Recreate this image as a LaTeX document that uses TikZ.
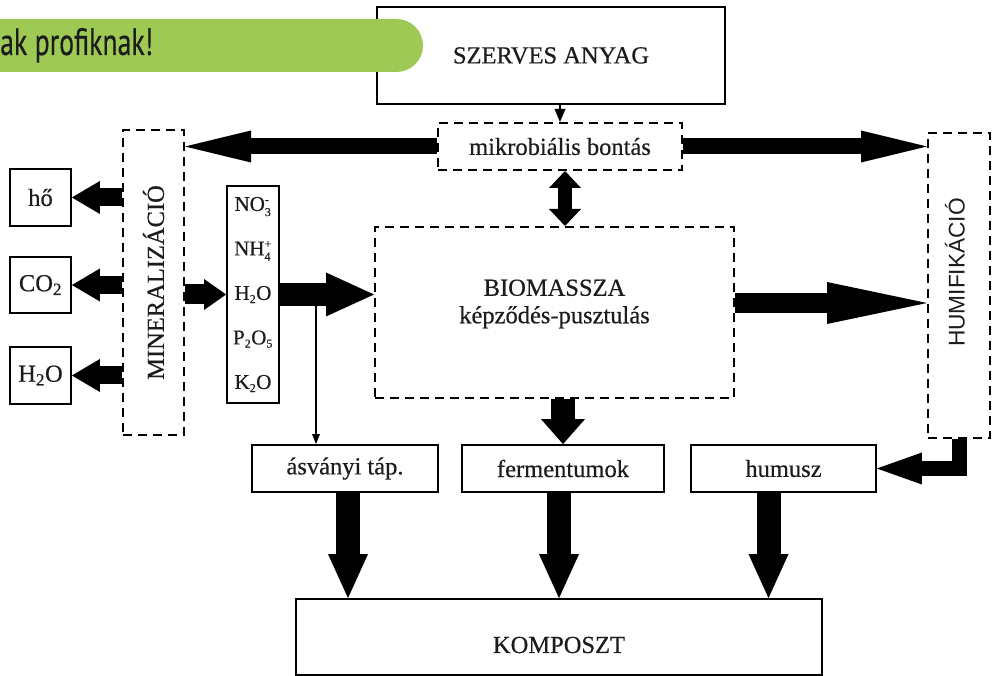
\documentclass[tikz,border=0pt]{standalone}
\usepackage{fontspec}
\setmainfont{Liberation Serif}[FakeBold=0.5]
\newfontfamily\humfont{Liberation Sans}
\newfontfamily\banfont{PT Sans}[FakeBold=0.4]
\usetikzlibrary{arrows.meta,calc}
\definecolor{banner}{RGB}{158,201,84}
\definecolor{ink}{RGB}{28,28,28}
\newcommand\bigtxt{\fontsize{24.5}{27.5}\selectfont}
\newcommand\nutrtxt{\fontsize{21}{44.5}\selectfont}
\newcommand\scr[1]{\mbox{\fontsize{12}{12}\selectfont #1}}
\begin{document}
\begin{tikzpicture}[x=1pt,y=-1pt,
  solid box/.style={draw=black, line width=1.8pt, inner sep=0pt, text=ink},
  dash box/.style={draw=black, line width=2pt, dash pattern=on 9pt off 6pt, inner sep=0pt, text=ink},
  fat/.style n args={3}{draw=black, line width=#1, -{Triangle[width=#2, length=#3, line width=0pt]}},
  plain txt/.style={inner sep=0pt, text=ink}
]
\useasboundingbox (0,0) rectangle (997,676);
\clip (0,0) rectangle (997,676);

% boxes
\node[solid box, minimum width=348pt, minimum height=97pt, font=\bigtxt] (szerves) at (551,55.5) {SZERVES ANYAG};
\node[dash box, minimum width=244pt, minimum height=47pt, font=\bigtxt] (mikro) at (560,146.5) {mikrobiális bontás};
\node[dash box, minimum width=61pt, minimum height=305pt] (miner) at (153.5,282.5) {};
\node[plain txt, rotate=90, font=\bigtxt] (minertxt) at (miner.center) {MINERALIZÁCIÓ};
\node[dash box, minimum width=62pt, minimum height=305pt] (humif) at (959,285.5) {};
\node[plain txt, rotate=90, font=\humfont\fontsize{22.7}{25}\selectfont] (humiftxt) at ($(humif.center)+(-4,-13)$) {HUMIFIKÁCIÓ};

\node[solid box, minimum width=61pt, minimum height=57pt, font=\bigtxt] (ho) at (40.5,197.5) {hő};
\node[solid box, minimum width=61pt, minimum height=56pt, font=\bigtxt] (co2) at (40.5,285) {CO\textsubscript{2}};
\node[solid box, minimum width=61pt, minimum height=57pt, font=\bigtxt] (h2o) at (40.5,375.5) {H\textsubscript{2}O};

\node[solid box, minimum width=52pt, minimum height=217pt, font=\nutrtxt, align=center] (nutr) at (253,294.5)
  {NO$_{\scr{3}}^{\scr{-}}$\\NH$_{\scr{4}}^{\scr{+}}$\\H$_{\scr{2}}$O\\P$_{\scr{2}}$O$_{\scr{5}}$\\K$_{\scr{2}}$O};

\node[dash box, minimum width=359pt, minimum height=171pt] (bio) at (554.5,312.5) {};
\node[plain txt, font=\bigtxt, align=center] (biotxt) at (554.5,304) {BIOMASSZA\\képződés-pusztulás};

\node[solid box, minimum width=186pt, minimum height=47pt, font=\bigtxt] (asv) at (345,468.5) {ásványi táp.};
\node[solid box, minimum width=202pt, minimum height=47pt, font=\bigtxt] (ferm) at (563,468.5) {fermentumok};
\node[solid box, minimum width=185pt, minimum height=47pt, font=\bigtxt] (humusz) at (783.5,468.5) {humusz};

\node[solid box, minimum width=526pt, minimum height=76pt] (kompo) at (559,637) {};
\node[plain txt, font=\bigtxt] (komptxt) at (559,645) {KOMPOSZT};

% connectors
\draw[line width=2pt, -{Triangle[width=11pt,length=13pt,line width=0pt]}] (szerves.south -| mikro.north) -- (mikro.north);
\draw[fat={16pt}{32pt}{66pt}] (mikro.west) -- (mikro.west -| miner.east);
\draw[fat={16pt}{32pt}{66pt}] (mikro.east) -- (mikro.east -| humif.west);
\draw[line width=14pt, {Triangle[width=32pt,length=17pt,line width=0pt]}-{Triangle[width=32pt,length=17pt,line width=0pt]}]
  ([xshift=5pt]mikro.south) -- ([xshift=5pt]mikro.south |- bio.north);

\draw[fat={18pt}{33pt}{28pt}] (ho.east -| miner.west) -- (ho.east);
\draw[fat={18pt}{33pt}{28pt}] (co2.east -| miner.west) -- (co2.east);
\draw[fat={18pt}{33pt}{28pt}] (h2o.east -| miner.west) -- (h2o.east);
\draw[fat={20pt}{31pt}{22pt}] (nutr.west -| miner.east) -- (nutr.west);
\draw[fat={23pt}{44pt}{48pt}] (nutr.east) -- (nutr.east -| bio.west);
\coordinate (tap) at (316,305);
\draw[line width=1.5pt, -{Triangle[width=8pt,length=10pt,line width=0pt]}] (tap) -- (tap |- asv.north);

\coordinate (bh) at (bio.east |- 0,303);
\draw[fat={20pt}{42pt}{100pt}] (bh) -- (bh -| humif.west);
\draw[fat={24pt}{44pt}{25pt}] (bio.south -| ferm.north) -- (ferm.north);

\draw[fat={24pt}{40pt}{44pt}] ([xshift=3pt]asv.south) -- ([xshift=3pt]asv.south |- kompo.north);
\draw[fat={24pt}{40pt}{44pt}] ([xshift=-4pt]ferm.south) -- ([xshift=-4pt]ferm.south |- kompo.north);
\draw[fat={24pt}{40pt}{44pt}] ([xshift=-15pt]humusz.south) -- ([xshift=-15pt]humusz.south |- kompo.north);
\draw[fat={15pt}{32pt}{45pt}] (humif.south) |- (humusz.east);

% banner
\fill[banner, rounded corners=26.5pt] (-40,19) rectangle (423,72);
\node[anchor=base west, inner sep=0pt, text=ink] (bantxt) at (0,55) {\resizebox{153pt}{27pt}{\banfont ak profiknak!}};
\end{tikzpicture}
\end{document}
